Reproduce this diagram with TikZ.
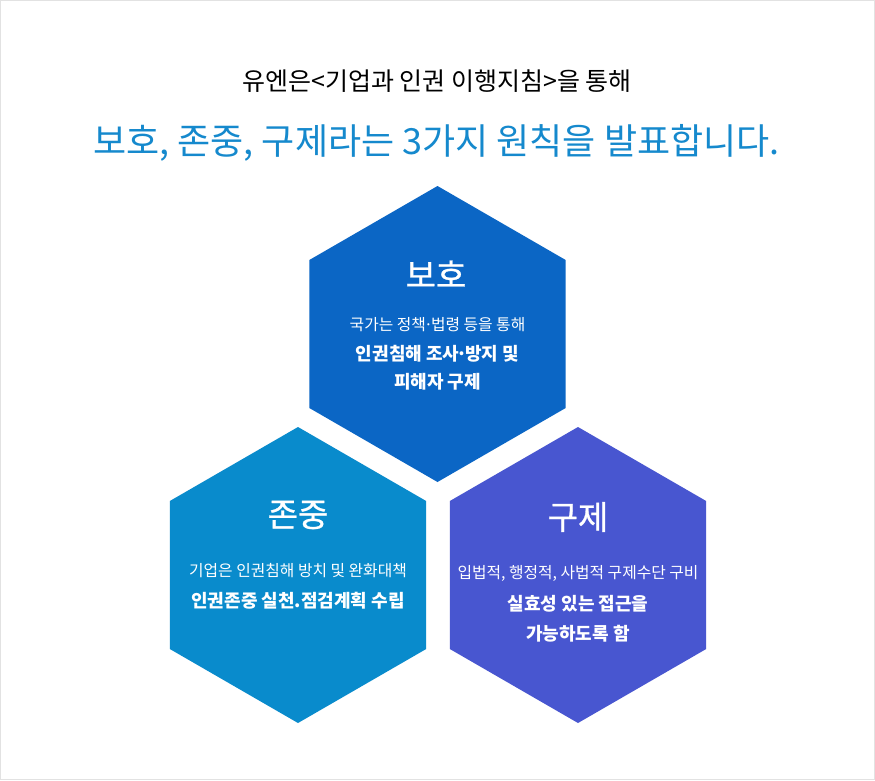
\documentclass[tikz,border=0pt]{standalone}
\usepackage{fontspec}
\usetikzlibrary{shapes.geometric}
\setmainfont{Noto Sans CJK KR}
\newfontfamily\medfont{Noto Sans CJK KR}[FakeBold=0.8]
\definecolor{hexA}{RGB}{11,102,197}
\definecolor{hexB}{RGB}{9,139,204}
\definecolor{hexC}{RGB}{72,86,208}
\definecolor{titleblue}{RGB}{21,137,205}
\definecolor{frame}{RGB}{226,226,226}
\newcommand{\ndot}{\makebox[0.32em]{·}}
\tikzset{
  hexshape/.style={regular polygon, regular polygon sides=6, regular polygon rotate=30, minimum size=296pt, inner sep=0pt, outer sep=0pt, draw=none},
  hextitle/.style={text=white, font=\fontsize{33pt}{36pt}\medfont, inner sep=0pt},
  hexsmall/.style={text=white, font=\fontsize{15.8pt}{18pt}\selectfont, inner sep=0pt},
  hexbold/.style={text=white, font=\fontsize{18pt}{21pt}\selectfont\bfseries, inner sep=0pt},
}
\begin{document}
\begin{tikzpicture}[x=1pt,y=-1pt]
\useasboundingbox (0,0) rectangle (875,780);
\fill[white] (0,0) rectangle (875,780);
\draw[frame, line width=1.2pt] (0.6,0.6) rectangle (874.4,779.4);

\node[inner sep=0pt, font=\fontsize{25pt}{28pt}\selectfont] (head1) at (437,81) {유엔은<기업과 인권 이행지침>을 통해};
\node[inner sep=0pt, text=titleblue, font=\fontsize{36pt}{40pt}\selectfont] (head2) at (436.5,143) {보호, 존중, 구제라는 3가지 원칙을 발표합니다.};

\node[hexshape, fill=hexA] (hexP) at (437.5,334) {};
\node[hexshape, fill=hexB] (hexR) at (298,575) {};
\node[hexshape, fill=hexC] (hexM) at (578,575) {};

\node[hextitle] (tP) at (436,274) {보호};
\node[hexsmall] (p1) at (437.5,324.5) {국가는 정책\ndot 법령 등을 통해};
\node[hexbold] (p2) at (437.5,353.5) {인권침해 조사\ndot 방지 및};
\node[hexbold] (p3) at (437.5,382) {피해자 구제};

\node[hextitle] (tR) at (298,515) {존중};
\node[hexsmall] (r1) at (298,571) {기업은 인권침해 방치 및 완화대책};
\node[hexbold] (r2) at (298,601) {인권존중 실천.점검계획 수립};

\node[hextitle] (tM) at (578,517) {구제};
\node[hexsmall] (m1) at (578,573) {입법적, 행정적, 사법적 구제수단 구비};
\node[hexbold] (m2) at (578,604) {실효성 있는 접근을};
\node[hexbold] (m3) at (578,634) {가능하도록 함};
\end{tikzpicture}
\end{document}
